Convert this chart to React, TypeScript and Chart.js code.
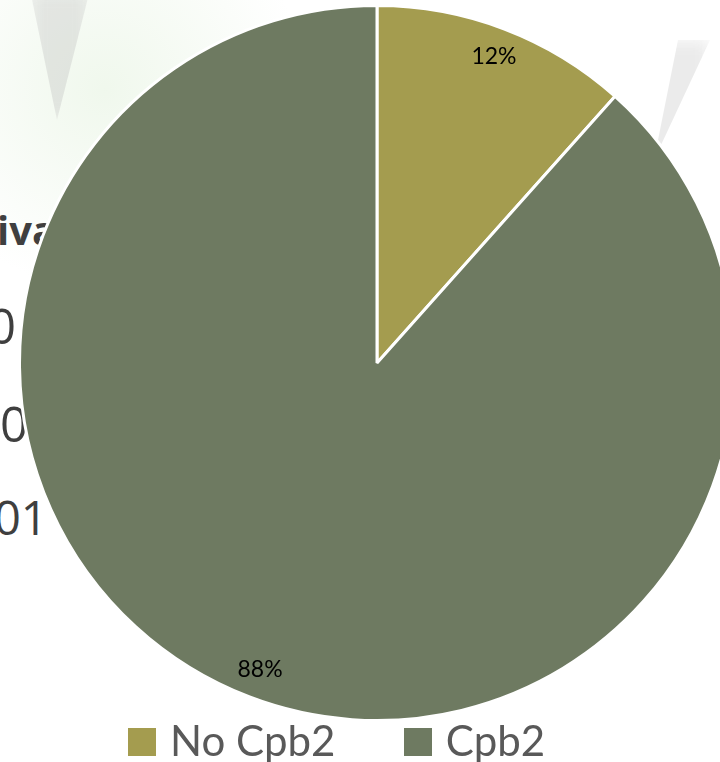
import React, { useEffect, useRef } from 'react';
import { Chart, registerables } from 'chart.js';

Chart.register(...registerables);

const categories: string[] = ['No Cpb2', 'Cpb2'];
const values: number[] = [11.6, 88.4];
const sliceColors: string[] = ['#A49C4F', '#6E7A61'];
const legendTextColor = '#595959';

const total = values.reduce((a, b) => a + b, 0);
const percentLabels = values.map((v) => Math.round((v / total) * 100) + '%');

function makeSwatch(color: string, size: number): HTMLCanvasElement {
  const c = document.createElement('canvas');
  c.width = size;
  c.height = size;
  const g = c.getContext('2d');
  if (g) {
    g.fillStyle = color;
    g.fillRect(0, 0, size, size);
  }
  return c;
}

const percentLabelPlugin = {
  id: 'percentLabels',
  afterDatasetsDraw(chart: any) {
    const meta = chart.getDatasetMeta(0);
    const ctx = chart.ctx;
    ctx.save();
    ctx.font = '23px Lato';
    ctx.fillStyle = '#000000';
    ctx.textAlign = 'center';
    ctx.textBaseline = 'middle';
    meta.data.forEach((arc: any, i: number) => {
      const p = arc.getProps(['startAngle', 'endAngle', 'outerRadius', 'x', 'y'], true);
      const mid = (p.startAngle + p.endAngle) / 2;
      const r = p.outerRadius * 0.918;
      ctx.fillText(percentLabels[i], p.x + Math.cos(mid) * r, p.y + Math.sin(mid) * r);
    });
    ctx.restore();
  },
};

export default function App() {
  const canvasRef = useRef<HTMLCanvasElement | null>(null);

  useEffect(() => {
    document.body.style.margin = '0';
    const canvas = canvasRef.current;
    if (!canvas) return;
    const swatches = sliceColors.map((c) => makeSwatch(c, 28));
    const chart = new Chart(canvas, {
      type: 'pie',
      data: {
        labels: categories,
        datasets: [
          {
            data: values,
            backgroundColor: sliceColors,
            borderColor: '#ffffff',
            borderWidth: 3,
            radius: 357.5,
            clip: false,
          } as any,
        ],
      },
      options: {
        responsive: false,
        animation: false,
        devicePixelRatio: 1,
        layout: { padding: { left: 59.6, right: 25.6, top: 80.4, bottom: 0 } },
        plugins: {
          tooltip: { enabled: false },
          legend: {
            display: true,
            position: 'bottom',
            align: 'start',
            labels: {
              usePointStyle: true,
              boxWidth: 14,
              padding: 75.4,
              color: legendTextColor,
              font: { family: 'Lato', size: 42 },
              generateLabels: (ch: any) =>
                ch.data.labels.map((label: string, i: number) => ({
                  text: label,
                  fillStyle: sliceColors[i],
                  strokeStyle: sliceColors[i],
                  lineWidth: 0,
                  pointStyle: swatches[i],
                  fontColor: legendTextColor,
                  hidden: false,
                  index: i,
                })),
            },
          },
        },
      } as any,
      plugins: [percentLabelPlugin],
    });
    return () => chart.destroy();
  }, []);

  const frag: React.CSSProperties = {
    position: 'absolute',
    color: '#3f3f3f',
    fontFamily: '"Open Sans", sans-serif',
    whiteSpace: 'nowrap',
    lineHeight: 1,
  };

  return (
    <div style={{ position: 'relative', width: 720, height: 762, overflow: 'hidden', background: '#ffffff' }}>
      <div style={{ position: 'absolute', left: 0, top: 0, width: 300, height: 300, background: 'radial-gradient(circle at 35% 30%, rgba(236,246,232,0.8), rgba(255,255,255,0) 70%)' }} />
      <div style={{ position: 'absolute', left: 30, top: -10, width: 60, height: 130, background: 'rgba(190,190,190,0.35)', clipPath: 'polygon(0 0, 100% 0, 45% 100%)', filter: 'blur(8px)' }} />
      <div style={{ position: 'absolute', left: 630, top: 40, width: 80, height: 120, background: 'rgba(190,190,190,0.3)', clipPath: 'polygon(60% 0, 100% 0, 30% 100%)', filter: 'blur(8px)' }} />
      <div style={{ ...frag, left: -3, top: 210, fontSize: 40, fontWeight: 700 }}>iva</div>
      <div style={{ ...frag, left: -12, top: 301, fontSize: 49 }}>0</div>
      <div style={{ ...frag, left: 0, top: 399, fontSize: 49 }}>0</div>
      <div style={{ ...frag, left: -6, top: 494, fontSize: 47 }}>01</div>
      <canvas ref={canvasRef} width={720} height={773} style={{ position: 'absolute', left: 0, top: 0 }} />
    </div>
  );
}
